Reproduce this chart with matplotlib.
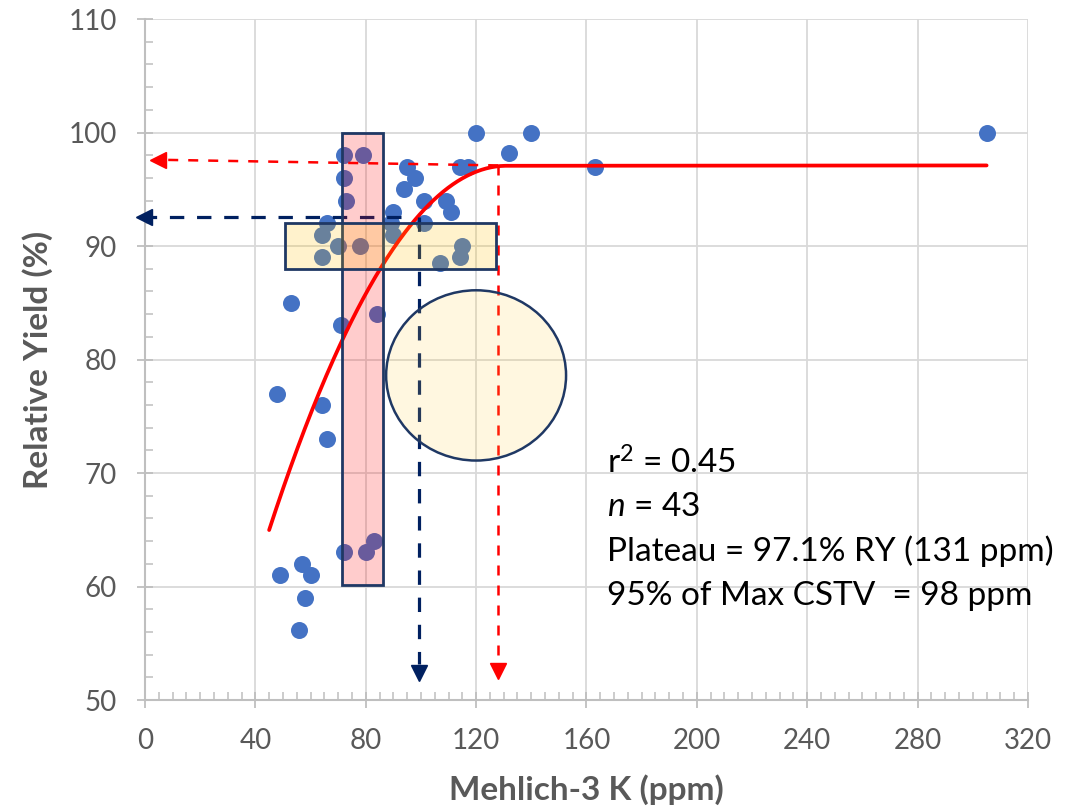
import numpy as np
import matplotlib
matplotlib.use("Agg")
import matplotlib.pyplot as plt
from matplotlib.patches import Rectangle, Ellipse
from matplotlib.ticker import MultipleLocator

plt.rcParams['font.family'] = ['Lato', 'DejaVu Sans']
plt.rcParams['mathtext.fontset'] = 'custom'
plt.rcParams['mathtext.rm'] = 'Lato'
plt.rcParams['mathtext.it'] = 'Lato:italic'

# observed points (Mehlich-3 K ppm, relative yield %)
k_ppm = [120, 140, 305, 132, 72, 79, 95, 114, 117, 163, 72, 98, 94, 73, 101, 109,
         111, 90, 66, 89, 101, 64, 90, 70, 78, 115, 64, 114, 107, 53, 84, 71, 48,
         64, 66, 83, 72, 80, 57, 49, 60, 58, 56]
rel_yield = [100, 100, 100, 98.2, 98, 98, 97, 97, 97, 97, 96, 96, 95, 94, 94, 94,
             93, 93, 92, 92, 92, 91, 91, 90, 90, 90, 89, 89, 88.5, 85, 84, 83, 77,
             76, 73, 64, 63, 63, 62, 61, 61, 59, 56.2]

# quadratic-plateau fit
quad_coef = [22.6, 1.137, -0.00434]   # a, b, c
join_ppm = 131
plateau = 97.1
x_start, x_end = 45, 305

stats_lines = ["r$^{2}$ = 0.45", "$n$ = 43", "Plateau = 97.1% RY (131 ppm)",
               "95% of Max CSTV  = 98 ppm"]

blue = '#4472C4'
navy = '#002060'
edge = '#1F3864'
grey = '#595959'


def main():
    fig = plt.figure(figsize=(10.89, 8.09), dpi=100)
    ax = fig.add_axes([0.1331, 0.1347, 0.8109, 0.8418])

    ax.scatter(k_ppm, rel_yield, s=150, color=blue, zorder=3, linewidths=0)

    # fitted line
    xs = np.linspace(x_start, join_ppm, 200)
    ys = quad_coef[0] + quad_coef[1] * xs + quad_coef[2] * xs ** 2
    xs = np.append(xs, x_end)
    ys = np.append(ys, plateau)
    ax.plot(xs, ys, color='#FF0000', lw=2.7, zorder=4, solid_capstyle='round')

    # red dashed guides (plateau)
    ax.plot([128, 5.0], [97.1, 97.6], color='#FF0000', lw=1.8, ls=(0, (4, 4)), zorder=4)
    ax.plot([4.6], [97.6], marker='<', ms=12, color='#FF0000', zorder=5, clip_on=False)
    ax.plot([128, 128], [97.1, 53.5], color='#FF0000', lw=1.8, ls=(0, (4, 4)), zorder=4)
    ax.plot([128], [52.6], marker='v', ms=12, color='#FF0000', zorder=5, clip_on=False)

    # navy dashed guides (95% of max)
    ax.plot([92.8, 2.0], [92.6, 92.6], color=navy, lw=2.3, ls=(0, (4.5, 4)), zorder=4)
    ax.plot([-0.4], [92.6], marker='<', ms=12, color=navy, zorder=5, clip_on=False)
    ax.plot([99.4, 99.4], [92.6, 53.2], color=navy, lw=2.3, ls=(0, (4.5, 4)), zorder=4)
    ax.plot([99.4], [52.4], marker='v', ms=12, color=navy, zorder=5, clip_on=False)

    # highlight shapes
    ax.add_patch(Rectangle((71.5, 60.1), 14.8, 39.9, facecolor=(1, 0, 0, 0.2),
                           edgecolor=edge, lw=2, zorder=6))
    ax.add_patch(Rectangle((50.8, 88.0), 76.4, 4.05, facecolor=(1, 0.75, 0, 0.2),
                           edgecolor=edge, lw=2, zorder=6))
    ax.add_patch(Ellipse((120, 78.6), 65.2, 15.0, facecolor=(1, 0.8, 0.2, 0.15),
                         edgecolor=edge, lw=1.8, zorder=6))

    # stats text
    for i, line in enumerate(stats_lines):
        ax.text(167.4, 70.9 - i * 3.9, line, fontsize=24, color='black',
                ha='left', va='center', zorder=7)

    ax.set_xlim(0, 320)
    ax.set_ylim(50, 110)
    ax.xaxis.set_major_locator(MultipleLocator(40))
    ax.xaxis.set_minor_locator(MultipleLocator(5))
    ax.yaxis.set_major_locator(MultipleLocator(10))
    ax.yaxis.set_minor_locator(MultipleLocator(2))
    ax.grid(True, which='major', color='#D9D9D9', lw=1.3, zorder=0)
    ax.set_axisbelow(True)

    for side in ['top', 'right']:
        ax.spines[side].set_visible(False)
    for side in ['left', 'bottom']:
        ax.spines[side].set_color('#BFBFBF')
        ax.spines[side].set_linewidth(1.5)

    ax.tick_params(which='major', direction='inout', length=12, width=1.3,
                   color='#BFBFBF', labelsize=20, labelcolor=grey, pad=14)
    ax.tick_params(which='minor', direction='in', length=6, width=1.1, color='#BFBFBF')
    ax.tick_params(axis='y', which='major', pad=14)

    ax.set_xlabel('Mehlich-3 K (ppm)', fontsize=24, fontweight='bold', color=grey)
    ax.set_ylabel('Relative Yield (%)', fontsize=24, fontweight='bold', color=grey)
    ax.xaxis.set_label_coords(0.5, -0.132)
    ax.xaxis.label.set_va('center')
    ax.yaxis.set_label_coords(-0.121, 0.5)
    ax.yaxis.label.set_va('center')

    fig.savefig('out.png', dpi=100)


if __name__ == "__main__":
    main()
